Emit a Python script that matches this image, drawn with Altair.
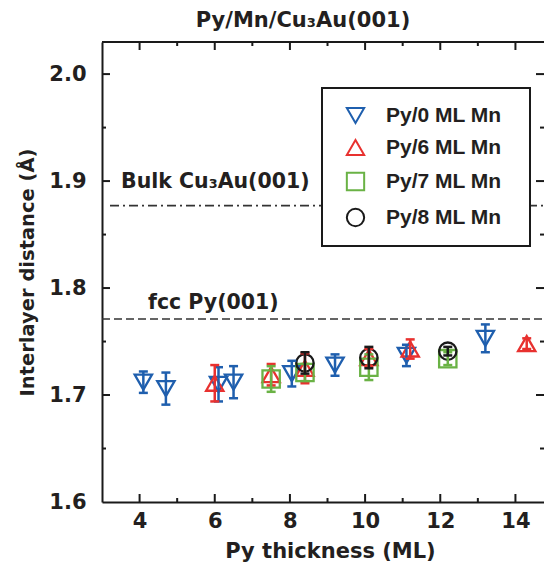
import altair as alt
import pandas as pd

FONT = "DejaVu Sans"
LFONT = "Liberation Sans"
TXT = "#231f20"
LINE = "#1a1a1a"

chart_title = "Py/Mn/Cu\u2083Au(001)"
x_title = "Py thickness (ML)"
y_title = "Interlayer distance (\u00c5)"

series_names = ["Py/0 ML Mn", "Py/6 ML Mn", "Py/7 ML Mn", "Py/8 ML Mn"]
series_colors = ["#1f5fae", "#e8312f", "#6ab245", "#1a1a1a"]
series_shapes = ["triangle-down", "triangle-up", "square", "circle"]
series_sizes = [300, 300, 165, 175]

mn0_x = [4.1, 4.7, 6.1, 6.5, 8.05, 9.2, 11.1, 13.2]
mn0_y = [1.712, 1.706, 1.710, 1.712, 1.720, 1.728, 1.737, 1.753]
mn0_e = [0.010, 0.015, 0.016, 0.015, 0.012, 0.010, 0.010, 0.013]

mn6_x = [6.0, 7.5, 8.4, 10.1, 11.2, 14.3]
mn6_y = [1.711, 1.719, 1.725, 1.735, 1.743, 1.748]
mn6_e = [0.017, 0.010, 0.014, 0.008, 0.009, 0.005]

mn7_x = [7.5, 8.4, 10.1, 12.2]
mn7_y = [1.715, 1.721, 1.726, 1.734]
mn7_e = [0.012, 0.008, 0.012, 0.006]

mn8_x = [8.4, 10.1, 12.2]
mn8_y = [1.730, 1.735, 1.741]
mn8_e = [0.010, 0.010, 0.004]

fcc_py = 1.771
bulk_cu3au = 1.877
ref_labels = ["Bulk Cu\u2083Au(001)", "fcc Py(001)"]

x_major = [4, 6, 8, 10, 12, 14]
x_minor = [5, 7, 9, 11, 13]
y_major = [1.6, 1.7, 1.8, 1.9, 2.0]
y_minor = [1.65, 1.75, 1.85, 1.95]

rows = []
for name, xs_, ys_, es_ in zip(series_names,
                               [mn0_x, mn6_x, mn7_x, mn8_x],
                               [mn0_y, mn6_y, mn7_y, mn8_y],
                               [mn0_e, mn6_e, mn7_e, mn8_e]):
    for x, y, e in zip(xs_, ys_, es_):
        rows.append({"series": name, "x": x, "y": y, "lo": y - e, "hi": y + e})
df = pd.DataFrame(rows)

W, H = 442, 460
xscale = alt.Scale(domain=[3, 14.76], nice=False, zero=False)
yscale = alt.Scale(domain=[1.6, 2.03], nice=False, zero=False)
cscale = alt.Scale(domain=series_names, range=series_colors)
sscale = alt.Scale(domain=series_names, range=series_shapes)
zscale = alt.Scale(domain=series_names, range=series_sizes)

leg = alt.Legend(title=None, orient="none", legendX=220, legendY=46,
                 padding=17, symbolSize=200, symbolStrokeWidth=2,
                 symbolOffset=6, labelOffset=20, labelFont=LFONT,
                 labelFontSize=21, labelFontWeight="bold", labelColor=TXT,
                 rowPadding=9)

xax = alt.Axis(values=x_major, title=x_title, ticks=False, tickSize=0,
               domain=True, domainColor=LINE, domainWidth=2, grid=False,
               labelPadding=8, titlePadding=9, titleX=228,
               labelFont=FONT, labelFontSize=21, labelFontWeight="bold", labelColor=TXT,
               titleFont=FONT, titleFontSize=21, titleFontWeight="bold", titleColor=TXT)
yax = alt.Axis(values=y_major, format=".1f", title=y_title,
               ticks=False, tickSize=0, domain=True, domainColor=LINE, domainWidth=2,
               grid=False, labelPadding=16,
               titlePadding=11, labelFont=FONT, labelFontSize=21,
               labelFontWeight="bold", labelColor=TXT, titleFont=FONT,
               titleFontSize=19.5, titleFontWeight="bold", titleColor=TXT)


def X(field):
    return alt.X(field, scale=xscale, axis=xax)


def Y(field):
    return alt.Y(field, scale=yscale, axis=yax)


# reference lines
fcc_line = alt.Chart(pd.DataFrame({"v": [fcc_py]})).mark_rule(
    strokeDash=[8, 4], strokeWidth=1.6, color="#333333").encode(
    y=Y("v:Q"), x=alt.value(0), x2=alt.value(W))
bulk_line = alt.Chart(pd.DataFrame({"v": [bulk_cu3au]})).mark_rule(
    strokeDash=[9, 4, 2, 4], strokeWidth=1.6, color="#333333").encode(
    y=Y("v:Q"), x=alt.value(8), x2=alt.value(W))

bulk_text = alt.Chart(pd.DataFrame({"v": [bulk_cu3au], "t": [ref_labels[0]]})).mark_text(
    align="left", baseline="alphabetic", dy=-18, font=FONT, fontSize=20.5,
    fontWeight="bold", color=TXT).encode(
    y=Y("v:Q"), x=alt.value(19), text="t:N")
fcc_text = alt.Chart(pd.DataFrame({"v": [fcc_py], "t": [ref_labels[1]]})).mark_text(
    align="left", baseline="alphabetic", dy=-10, font=FONT, fontSize=20.5,
    fontWeight="bold", color=TXT).encode(
    y=Y("v:Q"), x=alt.value(46), text="t:N")

# chart title
title_text = alt.Chart(pd.DataFrame({"t": [chart_title]})).mark_text(
    align="center", baseline="alphabetic", font=FONT, fontSize=21,
    fontWeight="bold", color=TXT).encode(
    x=alt.value(201), y=alt.value(-15), text="t:N")

# legend box
legend_box = alt.Chart(pd.DataFrame({"a": [0]})).mark_rect(
    fill="white", stroke=LINE, strokeWidth=2).encode(
    x=alt.value(220), x2=alt.value(428), y=alt.value(46), y2=alt.value(204))

# top frame line
top_line = alt.Chart(pd.DataFrame({"a": [0]})).mark_rule(
    color=LINE, strokeWidth=2).encode(x=alt.value(0), x2=alt.value(W), y=alt.value(0))

base = alt.Chart(df)
points = base.mark_point(filled=False, strokeWidth=2.3, opacity=1).encode(
    x=X("x:Q"), y=Y("y:Q"),
    color=alt.Color("series:N", scale=cscale, legend=leg),
    shape=alt.Shape("series:N", scale=sscale, legend=leg),
    size=alt.Size("series:N", scale=zscale, legend=None))

errs = []
for name, col in zip(series_names, series_colors):
    sub = base.transform_filter(alt.datum.series == name)
    errs.append(sub.mark_rule(strokeWidth=2.5, color=col).encode(
        x=X("x:Q"), y=Y("lo:Q"), y2="hi:Q"))
    errs.append(sub.mark_rule(strokeWidth=2.5, color=col, xOffset=-4.5, x2Offset=4.5).encode(
        x=X("x:Q"), x2="x:Q", y=Y("lo:Q")))
    errs.append(sub.mark_rule(strokeWidth=2.5, color=col, xOffset=-4.5, x2Offset=4.5).encode(
        x=X("x:Q"), x2="x:Q", y=Y("hi:Q")))


# inward ticks on all four sides
def xticks(vals, length, top):
    y0 = 0 if top else H
    y1 = length if top else H - length
    return alt.Chart(pd.DataFrame({"v": vals})).mark_rule(
        strokeWidth=2, color=LINE).encode(
        x=X("v:Q"), y=alt.value(y0), y2=alt.value(y1))


def yticks(vals, length, right):
    x0 = W if right else 0
    x1 = W - length if right else length
    return alt.Chart(pd.DataFrame({"v": vals})).mark_rule(
        strokeWidth=2, color=LINE).encode(
        y=Y("v:Q"), x=alt.value(x0), x2=alt.value(x1))


ticks = [xticks(x_major, 8, False), xticks(x_minor, 4, False),
         xticks(x_major, 8, True), xticks(x_minor, 4, True),
         yticks(y_major[1:], 8, False), yticks(y_minor, 4, False),
         yticks(y_major[1:], 8, True), yticks(y_minor, 4, True)]

chart = alt.layer(
    title_text, fcc_line, bulk_line, bulk_text, fcc_text, legend_box, top_line, *ticks,
    points, *errs
).properties(
    width=W, height=H,
    autosize=alt.AutoSizeParams(type="none"),
    padding={"left": 94, "top": 34, "right": 0, "bottom": 60},
    background="white",
).configure_view(stroke=None)

chart.save("out.html", embed_options={"renderer": "svg", "actions": False})
